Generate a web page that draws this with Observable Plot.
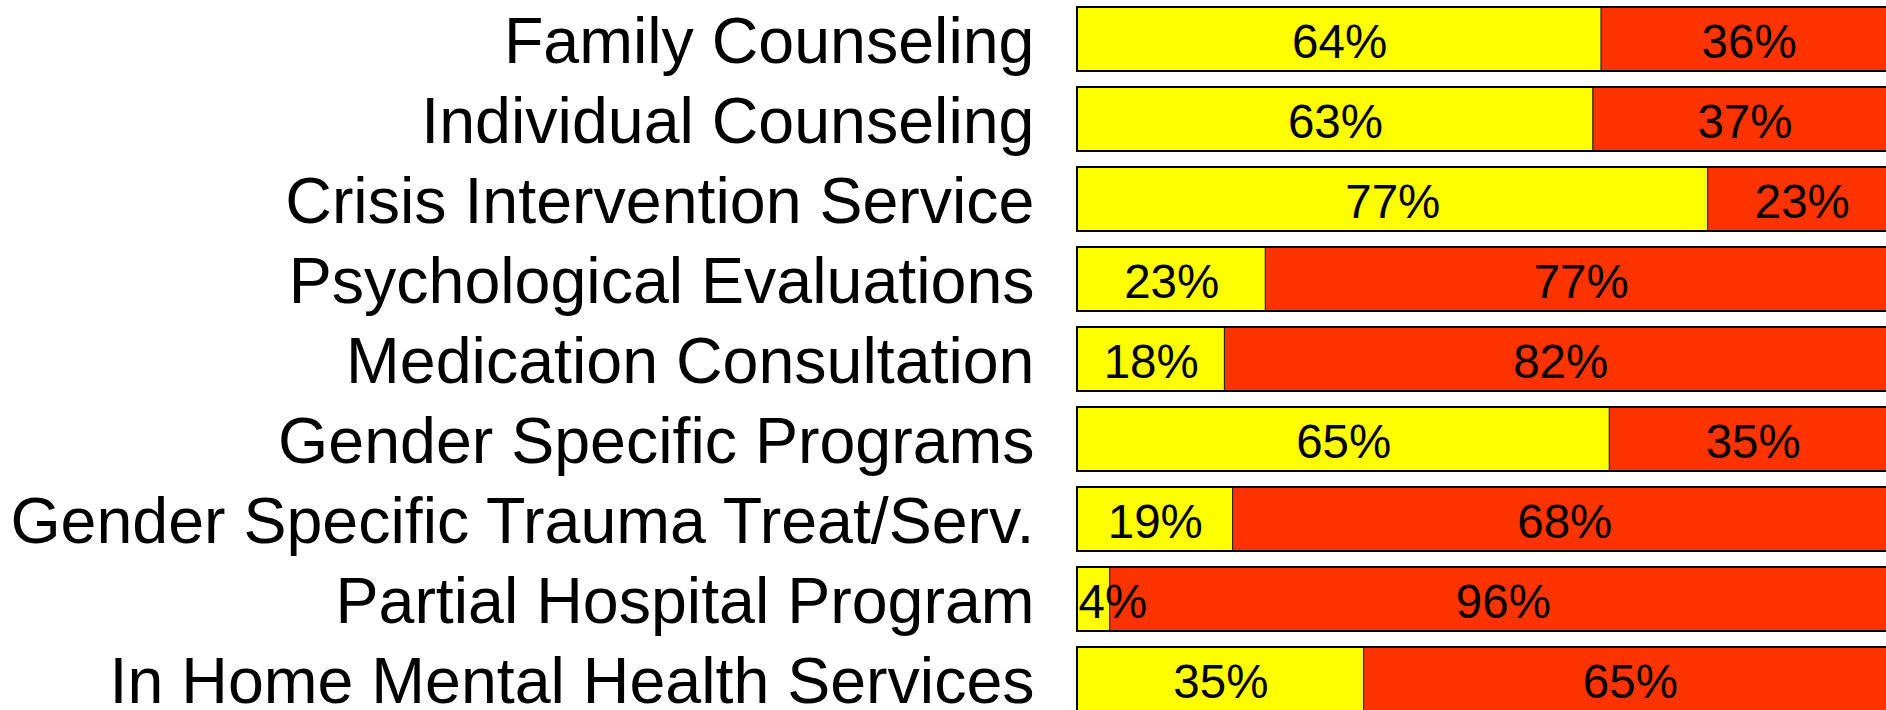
<!DOCTYPE html>
<html>
<head>
<meta charset="utf-8">
<script src="https://cdn.jsdelivr.net/npm/d3@7"></script>
<script src="https://cdn.jsdelivr.net/npm/@observablehq/plot@0.6"></script>
<style>
  html, body { margin: 0; padding: 0; background: white; overflow: hidden; }
</style>
</head>
<body>
<div id="chart"></div>
<script>
const categories = [
  "Family Counseling",
  "Individual Counseling",
  "Crisis Intervention Service",
  "Psychological Evaluations",
  "Medication Consultation",
  "Gender Specific Programs",
  "Gender Specific Trauma Treat/Serv.",
  "Partial Hospital Program",
  "In Home Mental Health Services"
];
const yesValues = [64, 63, 77, 23, 18, 65, 19, 4, 35];
const noValues  = [36, 37, 23, 77, 82, 35, 68, 96, 65];

const rows = categories.map((c, i) => ({category: c, yes: yesValues[i], no: noValues[i]}));

const font = "'Liberation Sans', Arial, Helvetica, sans-serif";

const chart = Plot.plot({
  width: 1886,
  height: 710,
  margin: 0,
  style: `overflow: hidden; background: white; font-family: ${font}; color: black;`,
  x: {domain: [0, 100], range: [1077, 1896], axis: null},
  y: {domain: categories, range: [0, 718], paddingInner: 0.205, paddingOuter: 0.062, axis: null},
  marks: [
    Plot.barX(rows, {y: "category", x1: 0, x2: "yes", fill: "#FFFF00", stroke: "#222", strokeWidth: 1}),
    Plot.barX(rows, {y: "category", x1: "yes", x2: () => 100, fill: "#FF3300", stroke: "#222", strokeWidth: 1}),
    Plot.barX(rows, {y: "category", x1: 0, x2: () => 100, fill: "none", stroke: "black", strokeWidth: 2}),
    Plot.text(rows, {y: "category", x: 0, text: "category", textAnchor: "end", dx: -43, dy: 3, fontSize: 64.5, fill: "black"}),
    Plot.text(rows.filter(d => d.yes >= 10), {y: "category", x: d => d.yes / 2, text: d => d.yes + "%", dy: 3, fontSize: 47.5, fill: "black"}),
    Plot.text(rows.filter(d => d.yes < 10), {y: "category", x: 0, text: d => d.yes + "%", textAnchor: "start", dx: 1, dy: 3, fontSize: 47.5, fill: "black"}),
    Plot.text(rows, {y: "category", x: d => (d.yes + 100) / 2, text: d => d.no + "%", dy: 3, fontSize: 47.5, fill: "black"})
  ]
});
document.getElementById("chart").appendChild(chart);
</script>
</body>
</html>
